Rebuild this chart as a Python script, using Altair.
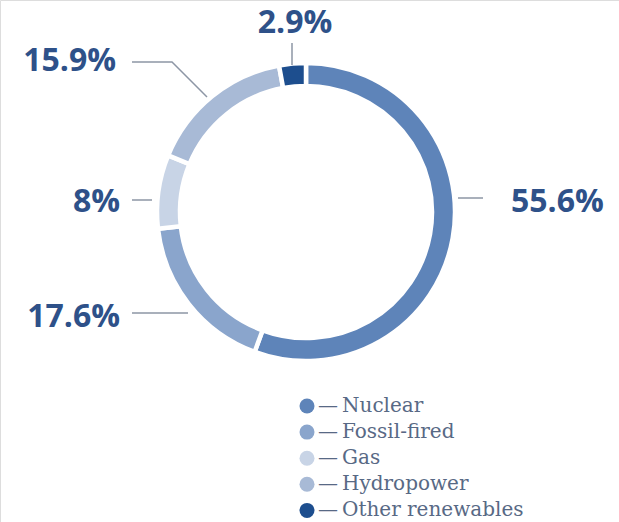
import altair as alt
import pandas as pd

# ---- data ----
categories = ["Nuclear", "Fossil-fired", "Gas", "Hydropower", "Other renewables"]
shares = [55.6, 17.6, 8, 15.9, 2.9]
colors = ["#5e84b9", "#8aa5cc", "#c8d4e6", "#a8bad6", "#1d4e8e"]

df = pd.DataFrame({
    "category": categories,
    "share": shares,
    "idx": list(range(len(categories))),
})

# ---- annotation layout (label anchors and leader lines, in pixels) ----
label_layout = {
    "Nuclear": dict(x=511, y=212, align="left"),
    "Fossil-fired": dict(x=120, y=327, align="right"),
    "Gas": dict(x=120, y=212, align="right"),
    "Hydropower": dict(x=116, y=71, align="right"),
    "Other renewables": dict(x=295, y=33, align="center"),
}
leader_layout = {
    "Nuclear": [(458, 198), (483, 198)],
    "Fossil-fired": [(132, 313), (188, 313)],
    "Gas": [(132, 200), (152, 200)],
    "Hydropower": [(132, 62), (172, 62), (207, 97)],
    "Other renewables": [(292, 43), (292, 65)],
}

CX, CY = 306, 212

arc = alt.Chart(df).mark_arc(
    outerRadius=149, innerRadius=126, stroke="white", strokeWidth=4.5
).encode(
    theta=alt.Theta("share:Q", stack=True),
    order=alt.Order("idx:Q"),
    x=alt.value(CX),
    y=alt.value(CY),
    color=alt.Color(
        "category:N",
        scale=alt.Scale(domain=categories, range=colors),
        sort=categories,
        legend=alt.Legend(
            title=None,
            orient="none",
            legendX=297,
            legendY=396,
            symbolType="circle",
            symbolSize=225,
            symbolStrokeWidth=0,
            labelFont="DejaVu Serif",
            labelFontSize=20,
            labelColor="#586985",
            labelOffset=1,
            labelLimit=0,
            rowPadding=6.1,
            labelExpr="'—\u2009' + datum.label",
        ),
    ),
)

texts = []
for cat, val in zip(categories, shares):
    lay = label_layout[cat]
    t = alt.Chart(pd.DataFrame({"label": [f"{val:g}%"]})).mark_text(
        font="Open Sans", fontWeight="bold", fontSize=32, color="#2e5189",
        align=lay["align"], baseline="alphabetic",
    ).encode(x=alt.value(lay["x"]), y=alt.value(lay["y"]), text="label:N")
    texts.append(t)

rows = []
for cat in categories:
    for i, (px, py) in enumerate(leader_layout[cat]):
        rows.append({"category": cat, "i": i, "px": px, "py": py})
lead_df = pd.DataFrame(rows)
leaders = alt.Chart(lead_df).mark_line(color="#8d96a5", strokeWidth=1.5).encode(
    x=alt.X("px:Q", scale=None, axis=None),
    y=alt.Y("py:Q", scale=None, axis=None),
    detail="category:N",
    order="i:Q",
)

chart = alt.layer(arc, leaders, *texts).properties(
    width=619, height=522, padding=0,
    autosize=alt.AutoSizeParams(type="none"),
).configure_view(stroke=None).configure(background="white")

chart.save("out.html", embed_options={"renderer": "svg", "actions": False})
